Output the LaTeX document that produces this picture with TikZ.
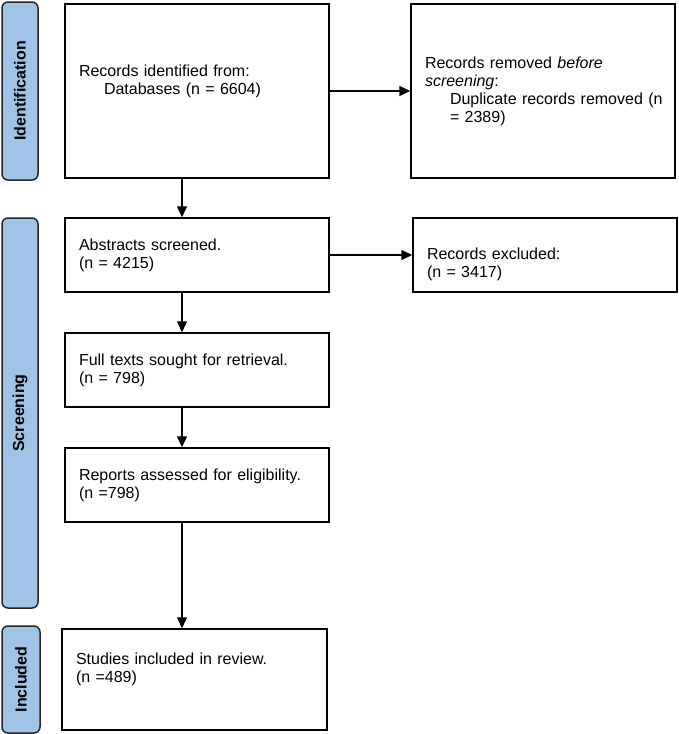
\documentclass[tikz,border=0pt]{standalone}
\usepackage{fontspec}
\setmainfont{Liberation Sans}
\usetikzlibrary{arrows.meta}
\tikzset{box/.style = {draw, line width=1.5pt, text width=236pt, inner xsep=14pt, inner ysep=0pt, align=left, font=\fontsize{16}{18}\selectfont}}
\tikzset{phase/.style = {draw=black!85, line width=1.5pt, fill=mblue, rounded corners=6pt, minimum width=36pt, inner sep=0pt, font=\bfseries\fontsize{16}{18}\selectfont}}
\tikzset{arr/.style = {line width=1.5pt, -{Triangle[length=11pt, width=10pt]}}}
\definecolor{mblue}{RGB}{160, 196, 232}
\newcommand{\ind}{\hspace*{25pt}}

\begin{document}
\begin{tikzpicture}[x=1pt, y=-1pt]
    \useasboundingbox (0, 0) rectangle (678, 734);

    \node [phase, minimum height=178] (idbar) at (20, 91) {\rotatebox{90}{Identification}};
    \node [phase, minimum height=390] (scrbar) at (20, 413) {\rotatebox{90}{Screening}};
    \node [phase, minimum width=38, minimum height=107] (incbar) at (21, 679.5) {\rotatebox{90}{Included}};

    \node [box, minimum height=174] (ident) at (197, 91)
      {Records identified from:\\ \ind Databases (n = 6604)\\ \strut};
    \node [box, minimum height=174] (removed) at (543, 91)
      {Records removed \emph{before screening}:\\ \ind\mbox{Duplicate records removed (n}\\ \ind= 2389)};
    \node [box, minimum height=74] (abstr) at (197, 255)
      {Abstracts screened.\\ (n = 4215)};
    \node [box, minimum height=74] (excl) at (545, 255)
      {\strut\\ Records excluded:\\ (n = 3417)};
    \node [box, minimum height=74] (full) at (197, 370)
      {Full texts sought for retrieval.\\ (n = 798)};
    \node [box, minimum height=74] (reports) at (197, 485)
      {Reports assessed for eligibility.\\ (n =798)};
    \node [box, text width=237pt, minimum height=101] (studies) at (194.5, 679.5)
      {Studies included in review.\\ (n =489)\\ \strut};

    \coordinate (spine) at (182, 0);
    \draw [arr] (ident.east) -- (removed.west);
    \draw [arr] (abstr.east) -- (excl.west);
    \draw [arr] (ident.south -| spine) -- (abstr.north -| spine);
    \draw [arr] (abstr.south -| spine) -- (full.north -| spine);
    \draw [arr] (full.south -| spine) -- (reports.north -| spine);
    \draw [arr] (reports.south -| spine) -- (studies.north -| spine);
  \end{tikzpicture}
\end{document}
